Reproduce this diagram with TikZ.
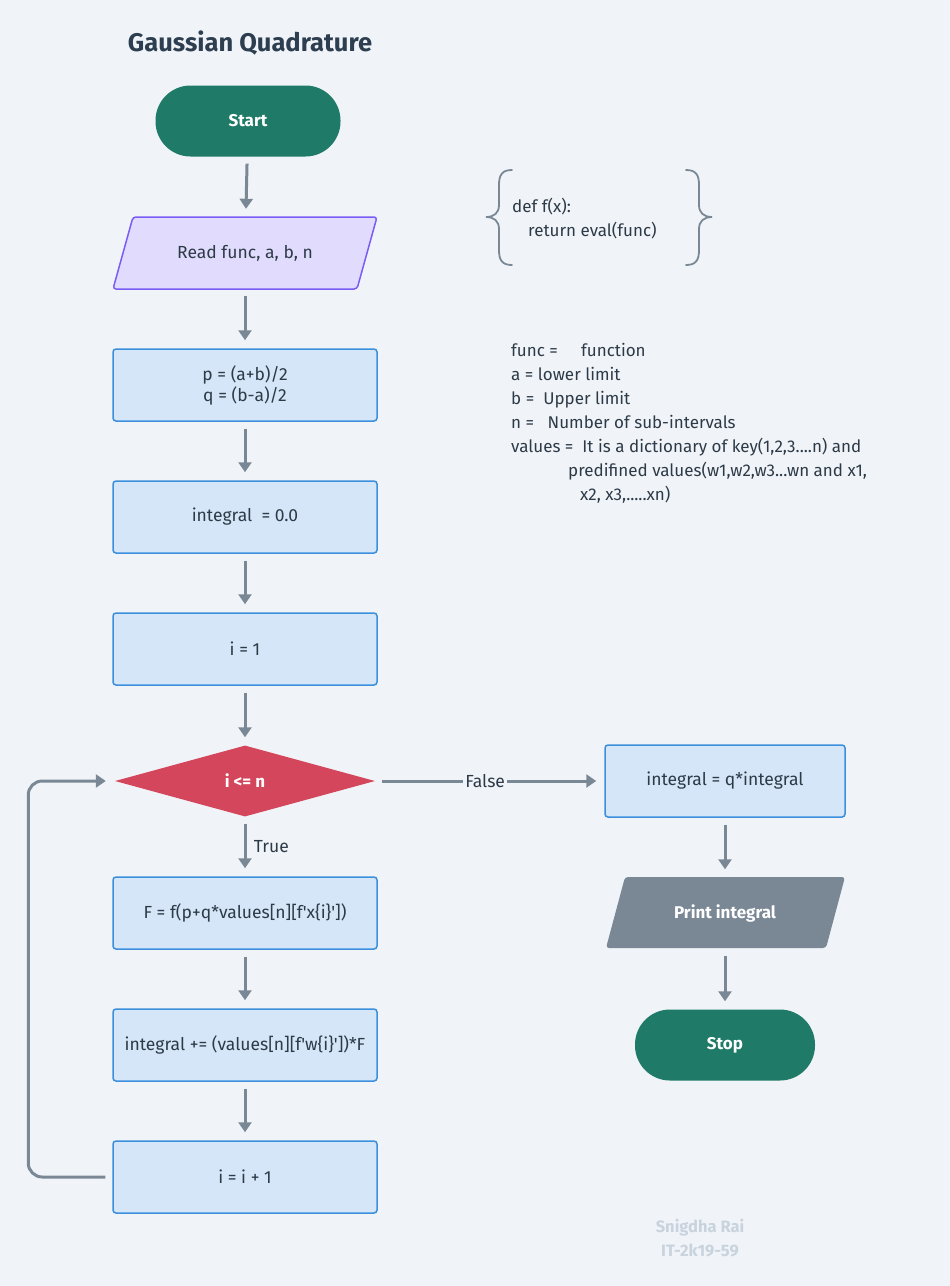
\documentclass[tikz,border=0pt]{standalone}
\usepackage{fontspec}
\setmainfont{Fira Sans}
\usetikzlibrary{arrows.meta,shapes.geometric}
\definecolor{bg}{HTML}{F0F4F8}
\definecolor{ink}{HTML}{2D3A47}
\definecolor{titleink}{HTML}{2C3E50}
\definecolor{termfill}{HTML}{1F7A68}
\definecolor{procfill}{HTML}{D4E6F7}
\definecolor{procline}{HTML}{3C8FDD}
\definecolor{iofill}{HTML}{E1DCFD}
\definecolor{ioline}{HTML}{7A5CF5}
\definecolor{printfill}{HTML}{7A8896}
\definecolor{decfill}{HTML}{D4465B}
\definecolor{linkc}{HTML}{7A8896}
\definecolor{signc}{HTML}{C8D3DD}
\newcommand{\boxfont}{\fontsize{17.5}{21}\selectfont}
\newcommand{\notefont}{\fontsize{17}{21}\selectfont}
\newcommand{\boldbox}{\fontsize{17}{21}\selectfont\bfseries}
\newcommand{\sq}{\textquotesingle}
\begin{document}
\begin{tikzpicture}[x=1pt,y=-1pt,
  proc/.style={draw=procline, fill=procfill, line width=1.5pt, rounded corners=3pt,
    minimum width=264pt, minimum height=72pt, inner sep=0pt, text=ink, font=\boxfont, align=center},
  term/.style={fill=termfill, rounded corners=35pt, minimum width=185pt, minimum height=71pt,
    inner sep=0pt, text=white, font=\boldbox},
  iotext/.style={minimum width=244pt, minimum height=72pt, inner sep=0pt, font=\boxfont, text=ink},
  decision/.style={diamond, fill=decfill, minimum width=260pt, minimum height=71pt, aspect=3.6,
    inner sep=0pt, text=white, font=\boldbox},
  flow/.style={draw=linkc, line width=3pt, shorten <=7pt, shorten >=8pt,
    -{Triangle[width=13pt,length=10pt]}},
  lbl/.style={text=ink, font=\boxfont, fill=bg, inner sep=2pt},
  note/.style={anchor=base west, text=ink, font=\notefont, inner sep=0pt},
  bracec/.style={draw=linkc, line width=1.8pt, line cap=round}
]
\useasboundingbox (0,0) rectangle (950,1286);
\fill[bg] (0,0) rectangle (950,1286);

% title
\node[text=titleink, font=\fontsize{25.5}{28}\selectfont\bfseries] (title) at (250,43) {Gaussian Quadrature};

% main column
\node[term] (start) at (248,121) {Start};

\fill[iofill, draw=ioline, line width=1.5pt, rounded corners=3pt]
  (133,217) -- (377,217) -- (357,289) -- (113,289) -- cycle;
\node[iotext] (read) at (245,253) {Read func, a, b, n};

\node[proc] (pq) at (245,385) {p = (a+b)/2\\ q = (b-a)/2};
\node[proc] (init) at (245,517) {integral \ = 0.0};
\node[proc] (ione) at (245,649) {i = 1};
\node[decision] (cond) at (245,781) {i <= n};
\node[proc] (fx) at (245,913) {F = f(p+q*values[n][f\sq x\{i\}\sq])};
\node[proc] (acc) at (245,1045) {integral += (values[n][f\sq w\{i\}\sq])*F};
\node[proc] (inc) at (245,1177) {i = i + 1};

% right column
\node[proc, minimum width=240pt] (scale) at (725,781) {integral = q*integral};
\fill[printfill, rounded corners=3pt]
  (625,877) -- (845,877) -- (826,948) -- (606,948) -- cycle;
\node[iotext, minimum width=220pt, minimum height=71pt, text=white, font=\boldbox] (print) at (725,913) {Print integral};
\node[term, minimum width=180pt] (stop) at (725,1045) {Stop};

% connectors
\draw[flow] (start) -- (read);
\draw[flow] (read) -- (pq);
\draw[flow] (pq) -- (init);
\draw[flow] (init) -- (ione);
\draw[flow] (ione) -- (cond);
\draw[flow] (cond) -- node[lbl, pos=0.48] (falselbl) {False} (scale);
\draw[flow] (cond) -- node[text=ink, font=\boxfont, right=4pt, pos=0.5] (truelbl) {True} (fx);
\draw[flow] (fx) -- (acc);
\draw[flow] (acc) -- (inc);
\draw[flow, shorten >=9pt, rounded corners=14pt] (inc.west) -- ++(-84,0) |- (cond.west);
\draw[flow] (scale) -- (print);
\draw[flow] (print) -- (stop);

% function definition with braces
\draw[bracec] (512,170) .. controls (502,170) and (499,175) .. (499,185) -- (499,205)
  .. controls (499,213) and (494,217) .. (486,217)
  .. controls (494,217) and (499,221) .. (499,229) -- (499,250)
  .. controls (499,260) and (502,265) .. (512,265);
\draw[bracec] (686,170) .. controls (696,170) and (699,175) .. (699,185) -- (699,205)
  .. controls (699,213) and (704,217) .. (712,217)
  .. controls (704,217) and (699,221) .. (699,229) -- (699,250)
  .. controls (699,260) and (696,265) .. (686,265);
\node[note] (def1) at (512,212) {def f(x):};
\node[note] (def2) at (528,236) {return eval(func)};

% notes on the variables
\node[note] (n1) at (511,356) {func =};
\node[note] (n1b) at (581,356) {function};
\node[note] (n2) at (511,380) {a = lower limit};
\node[note] (n3) at (511,404) {b = \ Upper limit};
\node[note] (n4) at (511,428) {n = \ \ Number of sub-intervals};
\node[note] (n5) at (511,452) {values = \ It is a dictionary of key(1,2,3....n) and};
\node[note] (n6) at (568,476) {predifined values(w1,w2,w3...wn and x1,};
\node[note] (n7) at (580,500) {x2, x3,.....xn)};

% signature
\node[text=signc, font=\fontsize{16.5}{24}\selectfont\bfseries, align=center] (sign) at (700,1238) {Snigdha Rai\\ IT-2k19-59};
\end{tikzpicture}
\end{document}
